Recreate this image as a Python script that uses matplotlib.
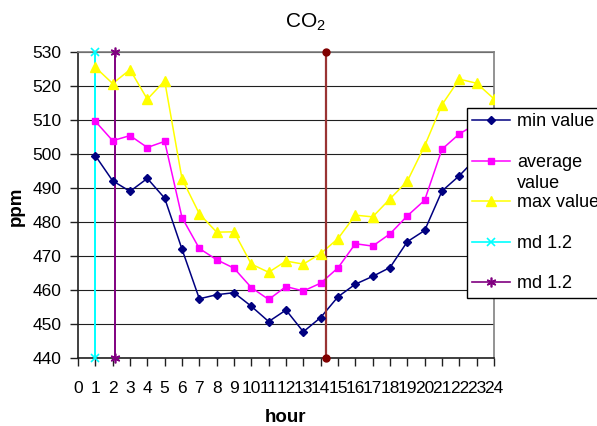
import matplotlib
matplotlib.use('Agg')
import matplotlib.pyplot as plt
from matplotlib.lines import Line2D

plt.rcParams['font.family'] = ['Liberation Sans', 'DejaVu Sans']
plt.rcParams['mathtext.default'] = 'regular'

hours = list(range(1, 25))
min_value = [499.6, 492.2, 489.1, 492.9, 487.1, 472.1, 457.5, 458.7, 459.3, 455.3,
             450.8, 454.2, 447.8, 452.0, 458.1, 461.8, 464.1, 466.7, 474.3, 477.6,
             489.2, 493.7, 499.0, 502.0]
avg_value = [509.7, 504.0, 505.5, 502.0, 503.8, 481.4, 472.3, 469.0, 466.5, 460.8,
             457.3, 461.1, 459.8, 462.1, 466.6, 473.7, 473.0, 476.6, 481.9, 486.5,
             501.5, 506.0, 509.0, 511.0]
max_value = [525.6, 520.8, 524.9, 516.2, 521.6, 492.8, 482.5, 477.1, 477.2, 467.7,
             465.3, 468.6, 467.7, 470.8, 475.2, 482.1, 481.6, 486.9, 492.1, 502.5,
             514.6, 522.1, 520.9, 516.3]
md1_x = [1.0, 1.0]
md2_x = [2.15, 2.15]
md3_x = [14.33, 14.33]
md_y = [440, 530]
x_ticks = list(range(0, 25))
y_ticks = [440, 450, 460, 470, 480, 490, 500, 510, 520, 530]
legend_labels = ['min value', 'average', 'max value', 'md 1.2', 'md 1.2']

W, H = 597, 426
fig = plt.figure(figsize=(W / 100, H / 100), dpi=100)
ax = fig.add_axes([78 / W, 1 - 358.3 / H, (494 - 78) / W, (358.3 - 52.3) / H])

ax.set_xlim(0, 24)
ax.set_ylim(440, 530)
ax.set_xticks(x_ticks)
ax.set_xticklabels([str(t) for t in x_ticks])
ax.set_yticks(y_ticks)
ax.tick_params(axis='both', labelsize=12.5, length=6, width=1, direction='out', color='#202020')
ax.tick_params(axis='x', pad=10)
ax.tick_params(axis='y', pad=6)
ax.grid(axis='y', color='#202020', lw=0.8)
ax.set_axisbelow(True)
for s in ['top', 'right']:
    ax.spines[s].set_color('#808080')
    ax.spines[s].set_linewidth(1.2)
for s in ['left', 'bottom']:
    ax.spines[s].set_color('#202020')
    ax.spines[s].set_linewidth(1.2)

c_min, c_avg, c_max = '#000080', '#FF00FF', '#FFFF00'
c_md1, c_md2, c_md3 = '#00FFFF', '#800080', '#993333'
star = (6, 2, 0)

# lines
ax.plot(hours, min_value, color=c_min, lw=1.1, zorder=3)
ax.plot(hours, avg_value, color=c_avg, lw=1.1, zorder=3)
ax.plot(hours, max_value, color=c_max, lw=1.1, zorder=3)
ax.plot(md1_x, md_y, color=c_md1, lw=1.4, zorder=3, clip_on=False)
ax.plot(md2_x, md_y, color=c_md2, lw=1.4, zorder=3, clip_on=False)
ax.plot(md3_x, md_y, color=c_md3, lw=1.6, zorder=3, clip_on=False)
# markers
ax.plot(hours, min_value, ls='none', marker='D', ms=4.5, color=c_min, zorder=4)
ax.plot(hours, avg_value, ls='none', marker='s', ms=5, color=c_avg, zorder=4)
ax.plot(hours, max_value, ls='none', marker='^', ms=6.5, color=c_max, zorder=4)
ax.plot(md1_x, md_y, ls='none', marker='x', ms=6, mew=1.2, color=c_md1, zorder=4, clip_on=False)
ax.plot(md2_x, md_y, ls='none', marker=star, ms=7, mew=1.2, color=c_md2, zorder=4, clip_on=False)
ax.plot(md3_x, md_y, ls='none', marker='o', ms=5, color='#800000', zorder=4, clip_on=False)

fig.text(305.5 / W, 1 - 22.5 / H, 'CO$_2$', fontsize=15, ha='center', va='center')
fig.text(16 / W, 1 - 206 / H, 'ppm', fontsize=13.5, fontweight='bold', rotation=90,
         ha='center', va='center')
fig.text(286 / W, 1 - 417 / H, 'hour', fontsize=13.5, fontweight='bold',
         ha='center', va='center')

handles = [
    Line2D([], [], color=c_min, lw=1.1, marker='D', ms=4.5),
    Line2D([], [], color=c_avg, lw=1.1, marker='s', ms=5),
    Line2D([], [], color=c_max, lw=1.1, marker='^', ms=6.5),
    Line2D([], [], color=c_md1, lw=1.2, marker='x', ms=6, mew=1.2),
    Line2D([], [], color=c_md2, lw=1.2, marker=star, ms=7, mew=1.2),
]
leg = fig.legend(handles, legend_labels, loc='upper left',
                 bbox_to_anchor=(466.5 / W, 1 - 108 / H), borderaxespad=0,
                 fontsize=13, frameon=True, fancybox=False, framealpha=1,
                 edgecolor='black', borderpad=0.3, labelspacing=1.30,
                 handlelength=2.1, handletextpad=0.4)
leg.get_frame().set_linewidth(1.0)
leg.set_zorder(5)
fig.text(517 / W, 1 - 184 / H, 'value', fontsize=13, ha='left', va='center', zorder=10)

fig.savefig('out.png', dpi=100)
